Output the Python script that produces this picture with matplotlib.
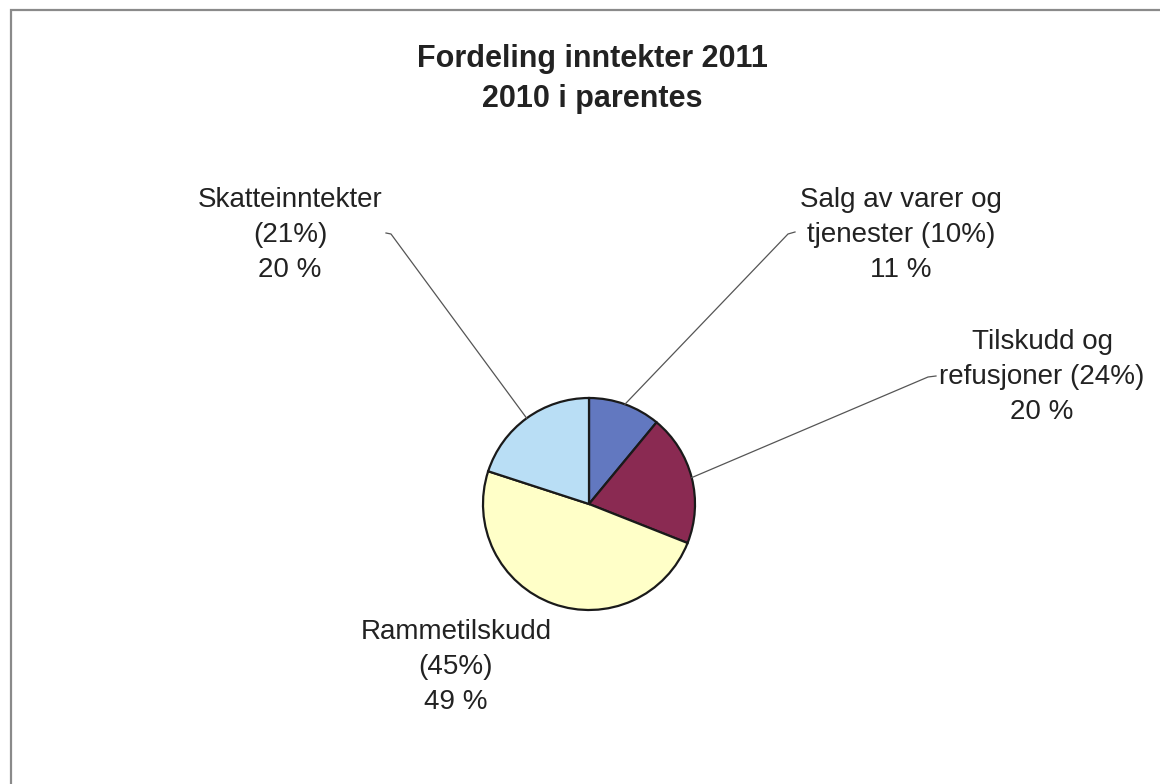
import numpy as np
import matplotlib.pyplot as plt
from matplotlib.patches import Rectangle

plt.rcParams['font.family'] = ['Liberation Sans', 'DejaVu Sans']

tittel = "Fordeling inntekter 2011\n2010 i parentes"
kategorier = ["Salg av varer og\ntjenester", "Tilskudd og\nrefusjoner", "Rammetilskudd\n", "Skatteinntekter\n"]
andel_2011 = [11, 20, 49, 20]
andel_2010 = [10, 24, 45, 21]
farger = ["#6278c0", "#8a2a52", "#ffffc8", "#b9def5"]

# label placement in pixels (image coords, y down), elbow point of leader, or None
tekst_pos = [(901, 235), (1042, 377), (456, 667), (290, 235)]
knekk = [((788, 234), (795, 232)), ((928, 377), (936, 376)), None, ((391, 234), (386, 233))]

W, H = 1160, 784
fig = plt.figure(figsize=(W / 100, H / 100), dpi=100)
ax = fig.add_axes([0, 0, 1, 1])
ax.set_xlim(0, W)
ax.set_ylim(0, H)
ax.axis('off')

senter = (589, H - 504)
radius = 106
wedges, _ = ax.pie(andel_2011, colors=farger, startangle=90, counterclock=False,
                   center=senter, radius=radius,
                   wedgeprops=dict(edgecolor="#1a1a1a", linewidth=1.6))
ax.set_xlim(0, W)
ax.set_ylim(0, H)

# frame
ax.add_patch(Rectangle((11, -20), W, H - 10 + 20, fill=False, edgecolor="#8a8a8a", linewidth=1.6))

ax.text(592, H - 79, tittel, ha='center', va='center', fontsize=22, fontweight='bold',
        color="#222222", linespacing=1.45)

for w, kat, v11, v10, pos, kn in zip(wedges, kategorier, andel_2011, andel_2010, tekst_pos, knekk):
    linjer = kat.split("\n")
    if linjer[1]:
        tekst = f"{linjer[0]}\n{linjer[1]} ({v10}%)\n{v11} %"
    else:
        tekst = f"{linjer[0]}\n({v10}%)\n{v11} %"
    ax.text(pos[0], H - pos[1], tekst, ha='center', va='center', fontsize=20,
            color="#222222", linespacing=1.47)
    if kn is not None:
        mid = np.deg2rad((w.theta1 + w.theta2) / 2)
        x0 = senter[0] + radius * np.cos(mid)
        y0 = senter[1] + radius * np.sin(mid)
        xs = [x0, kn[0][0], kn[1][0]]
        ys = [y0, H - kn[0][1], H - kn[1][1]]
        ax.plot(xs, ys, color="#555555", linewidth=0.9)

fig.savefig("out.png", dpi=100)
